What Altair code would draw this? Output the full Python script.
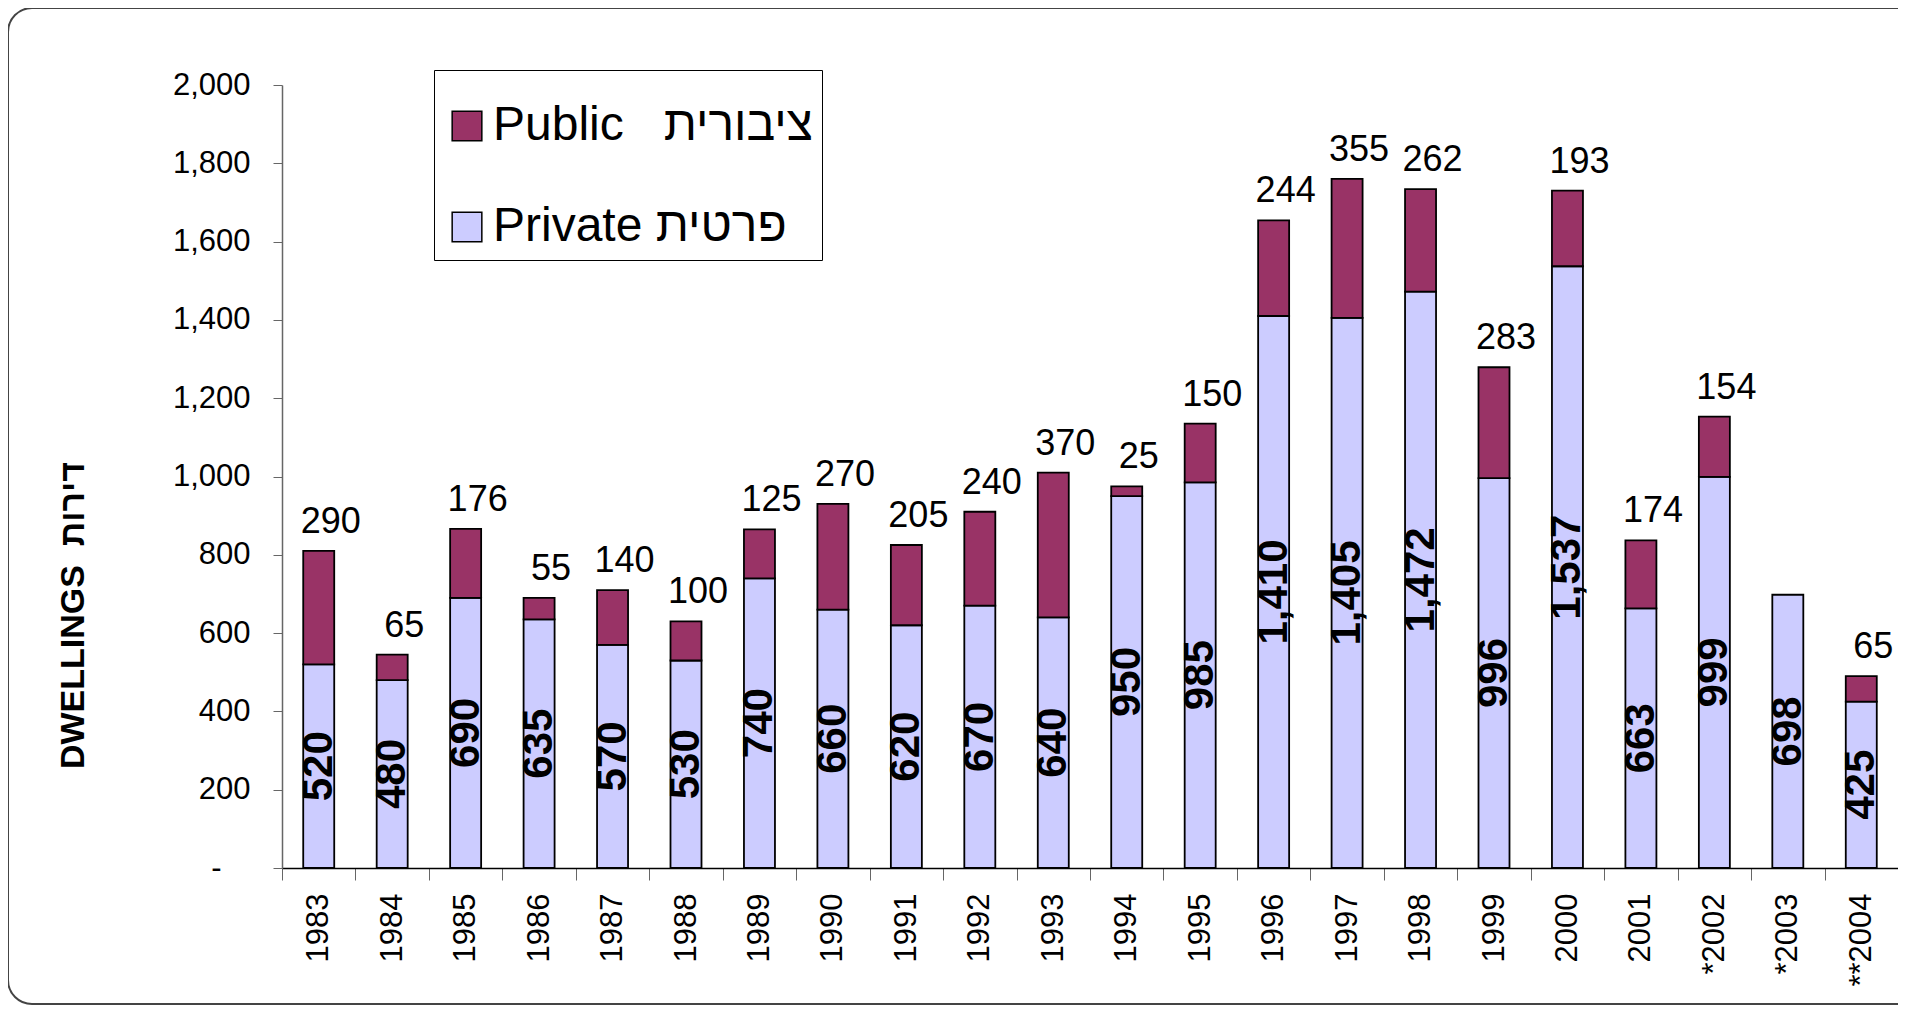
import altair as alt
import pandas as pd

# ---- data ----
years = ["1983", "1984", "1985", "1986", "1987", "1988", "1989", "1990", "1991",
         "1992", "1993", "1994", "1995", "1996", "1997", "1998", "1999", "2000",
         "2001", "*2002", "*2003", "**2004"]
private = [520, 480, 690, 635, 570, 530, 740, 660, 620, 670, 640, 950, 985,
           1410, 1405, 1472, 996, 1537, 663, 999, 698, 425]
public = [290, 65, 176, 55, 140, 100, 125, 270, 205, 240, 370, 25, 150,
          244, 355, 262, 283, 193, 174, 154, None, 65]
y_ticks = [0, 200, 400, 600, 800, 1000, 1200, 1400, 1600, 1800, 2000]

PUBLIC = "Public\u00a0\u00a0\u00a0ציבורית"
PRIVATE = "Private פרטית"
series_names = [PUBLIC, PRIVATE]
series_colors = ["#993366", "#CCCCFF"]
Y_TITLE = "DWELLINGS\u00a0\u00a0דירות"
FONT = "Liberation Sans"

# ---- tables built from the arrays ----
long_rows = []
for yr, pv, pb in zip(years, private, public):
    long_rows.append({"year": yr, "series": PRIVATE, "value": pv, "ord": 0})
    if pb is not None:
        long_rows.append({"year": yr, "series": PUBLIC, "value": pb, "ord": 1})
long_df = pd.DataFrame(long_rows)

wide_df = pd.DataFrame({"year": years, "private": private, "public": public})

W, H = 1616, 783

x_enc = alt.X(
    "year:N",
    sort=years,
    scale=alt.Scale(domain=years, paddingInner=0, paddingOuter=0),
    axis=alt.Axis(
        title=None, labelAngle=270, labelAlign="right", labelBaseline="middle",
        labelFontSize=31, labelFont=FONT, labelColor="black",
        tickBand="extent", tickSize=12, tickColor="#666", labelPadding=13,
        domainColor="black", domainWidth=1.5,
    ),
)

y_scale = alt.Scale(domain=[0, 2000], nice=False)
y_axis = alt.Axis(
    values=y_ticks,
    labelExpr="datum.value == 0 ? '-' : format(datum.value, ',')",
    labelFontSize=31, labelFont=FONT, labelColor="black",
    labelPadding={"condition": {"test": "datum.value == 0", "value": 52}, "value": 23},
    tickSize=9, tickColor="#666",
    domainColor="#666", domainWidth=1.5, grid=False,
    title=Y_TITLE, titleFontSize=34, titleFont=FONT, titleFontWeight="bold",
    titleColor="black", titleAngle=270, titleX=-209, titleY=530,
    titleAlign="center", titleBaseline="middle",
)

bars = alt.Chart(long_df).mark_bar(size=31, stroke="black", strokeWidth=1.8).encode(
    x=x_enc,
    y=alt.Y("value:Q", stack="zero", scale=y_scale, axis=y_axis),
    color=alt.Color(
        "series:N",
        scale=alt.Scale(domain=series_names, range=series_colors),
        legend=alt.Legend(
            orient="none", legendX=152, legendY=-15,
            title="\u00a0", titleFontSize=10, titlePadding=13,
            strokeColor="black", fillColor="white", padding=9,
            symbolType="square", symbolSize=880, symbolStrokeColor="black",
            symbolStrokeWidth=1.5, symbolOpacity=1,
            labelFontSize=48, labelFont=FONT, labelColor="black",
            labelOffset=2, rowPadding=53, labelLimit=600,
        ),
    ),
    order=alt.Order("ord:Q", sort="ascending"),
)

public_labels = alt.Chart(wide_df).transform_filter(
    "isValid(datum.public)"
).transform_calculate(
    total="datum.private + datum.public"
).mark_text(
    font=FONT, fontSize=36, color="black", baseline="middle", align="center", dy=-29, dx=12
).encode(
    x=x_enc,
    y=alt.Y("total:Q", scale=y_scale, axis=y_axis),
    text=alt.Text("public:Q", format=","),
)

private_labels = alt.Chart(wide_df).transform_calculate(
    mid="datum.private / 2"
).mark_text(
    font=FONT, fontSize=42, fontWeight="bold", color="black",
    angle=270, baseline="middle", align="center",
).encode(
    x=x_enc,
    y=alt.Y("mid:Q", scale=y_scale, axis=y_axis),
    text=alt.Text("private:Q", format=","),
)

frame = alt.Chart(pd.DataFrame({"k": [0]})).mark_rect(
    fillOpacity=0, stroke="#444", strokeWidth=2, cornerRadius=24
).encode(
    x=alt.value(-274), x2=alt.value(W + 60), y=alt.value(-77), y2=alt.value(H + 136)
)

chart = alt.layer(frame, bars, public_labels, private_labels).properties(
    width=W, height=H,
    padding={"left": 274, "top": 77, "right": 0, "bottom": 138},
    autosize=alt.AutoSizeParams(type="none"),
    background="white",
).configure_view(stroke=None)

chart.save("out.html", embed_options={"renderer": "svg", "actions": False})
